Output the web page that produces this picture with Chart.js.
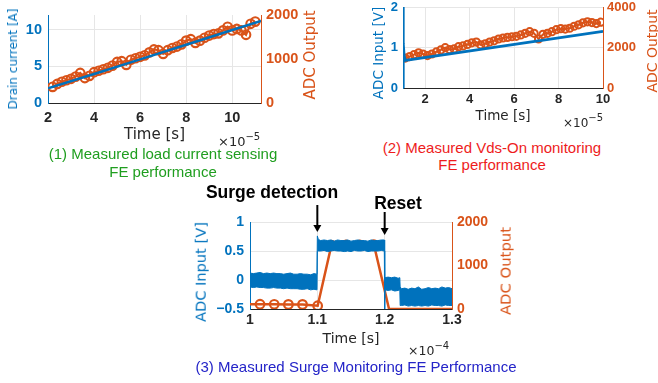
<!DOCTYPE html>
<html><head><meta charset="utf-8">
<script src="https://cdn.jsdelivr.net/npm/chart.js@4/dist/chart.umd.min.js"></script>
<style>
html,body{margin:0;padding:0;background:#fff;}
body{width:658px;height:383px;position:relative;overflow:hidden;font-family:"DejaVu Sans",sans-serif;}
canvas{position:absolute;}
.t{position:absolute;white-space:nowrap;line-height:1;}
.rot{transform:translate(-50%,-50%) rotate(-90deg);}
.ctr{transform:translate(-50%,-50%);}
.cap{font-family:"Liberation Sans",Arial,sans-serif;font-size:15px;}
.sup{font-size:10px;position:relative;top:-6px;}
</style></head><body>
<canvas id="c1" width="330" height="145" style="left:0;top:0"></canvas>
<canvas id="c2" width="318" height="135" style="left:340px;top:0"></canvas>
<canvas id="c3" width="350" height="180" style="left:180px;top:180px"></canvas>

<div class="t rot" style="left:13px;top:59px;font-size:12px;color:#0072BD">Drain current [A]</div>
<div class="t rot" style="left:310px;top:55px;font-size:15px;color:#D95319">ADC Output</div>
<div class="t" style="left:218px;top:135px;font-size:13px;color:#262626">×10<span class="sup">−5</span></div>
<div class="t ctr cap" style="left:163px;top:153px;color:#1f9e1f">(1) Measured load current sensing</div>
<div class="t ctr cap" style="left:163px;top:171px;color:#1f9e1f">FE performance</div>

<div class="t rot" style="left:379px;top:53px;font-size:13.5px;color:#0072BD">ADC Input [V]</div>
<div class="t rot" style="left:652px;top:51px;font-size:14px;color:#D95319">ADC Output</div>
<div class="t" style="left:563px;top:117px;font-size:12px;color:#262626">×10<span class="sup">−5</span></div>
<div class="t ctr cap" style="left:492px;top:147px;color:#ee1c1c">(2) Measured Vds-On monitoring</div>
<div class="t ctr cap" style="left:492px;top:164px;color:#ee1c1c">FE performance</div>

<div class="t rot" style="left:201px;top:272px;font-size:14.6px;color:#0072BD">ADC Input [V]</div>
<div class="t rot" style="left:506px;top:271px;font-size:14.8px;color:#D95319">ADC Output</div>
<div class="t" style="left:408px;top:345px;font-size:12.5px;color:#262626">×10<span class="sup">−4</span></div>
<div class="t ctr cap" style="left:356px;top:366px;color:#2424c8">(3) Measured Surge Monitoring FE Performance</div>
<div class="t ctr" style="left:272px;top:193px;font-family:'Liberation Sans',Arial,sans-serif;font-weight:bold;font-size:17.5px;color:#000">Surge detection</div>
<div class="t ctr" style="left:398px;top:204px;font-family:'Liberation Sans',Arial,sans-serif;font-weight:bold;font-size:17.5px;color:#000">Reset</div>

<script>
// ---------- Chart (1): load current sensing (time in 1e-5 s) ----------
const t1Blue = [2.0, 4.0, 6.0, 8.0, 10.0, 11.25];
const current1 = [2.0, 3.95, 5.95, 7.95, 9.95, 11.2];
const t1Adc = [2.2,2.4,2.6,2.8,3.0,3.2,3.4,3.6,3.8,4.0,4.2,4.4,4.6,4.8,5.0,5.2,5.4,5.6,5.8,6.0,6.2,6.4,6.6,6.8,7.0,7.2,7.4,7.6,7.8,8.0,8.2,8.4,8.6,8.8,9.0,9.2,9.4,9.6,9.8,10.0,10.2,10.4,10.6,10.8,11.0];
const adc1 = [367,433,483,517,550,600,683,567,617,700,733,767,800,850,933,950,867,983,1017,1050,1083,1150,1217,1200,1117,1200,1250,1283,1333,1417,1450,1367,1417,1483,1533,1567,1583,1650,1733,1650,1683,1650,1550,1800,1850];
const x1Ticks = [2,4,6,8,10];
const x1Labels = ['2','4','6','8','10'];
const y1Ticks = [0,5,10];
const y1Labels = ['0','5','10'];
const y1rTicks = [0,1000,2000];
const y1rLabels = ['0','1000','2000'];

// ---------- Chart (2): Vds-On monitoring (time in 1e-5 s) ----------
const t2Blue = [1.0, 1.002, 1.02, 1.05, 1.1, 10.0];
const vin2 = [0.0, 2.0, 1.1, 0.8, 0.68, 1.40];
const t2Adc = [1.1,1.3,1.5,1.7,1.9,2.1,2.3,2.5,2.7,2.9,3.1,3.3,3.5,3.7,3.9,4.1,4.3,4.5,4.7,4.9,5.1,5.3,5.5,5.7,5.9,6.1,6.3,6.5,6.7,6.9,7.1,7.3,7.5,7.7,7.9,8.1,8.3,8.5,8.7,8.9,9.1,9.3,9.5,9.7,9.9];
const adc2 = [1480,1550,1650,1740,1680,1600,1680,1780,1880,1990,1900,1930,2040,2080,2150,2230,2270,2130,2180,2270,2330,2420,2470,2500,2530,2550,2620,2700,2780,2700,2420,2650,2700,2780,2880,2930,2910,2950,3050,3120,3220,3270,3230,3180,3250];
const x2Ticks = [2,4,6,8,10];
const x2Labels = ['2','4','6','8','10'];
const y2Ticks = [0,1,2];
const y2Labels = ['0','1','2'];
const y2rTicks = [0,2000,4000];
const y2rLabels = ['0','2000','4000'];

// ---------- Chart (3): surge monitoring (time in 1e-4 s) ----------
const bandT = [1.000,1.005,1.010,1.015,1.020,1.025,1.030,1.035,1.040,1.045,1.050,1.055,1.060,1.065,1.070,1.075,1.080,1.085,1.090,1.095,1.0995,
  1.1000,1.1015,1.105,1.110,1.115,1.120,1.125,1.130,1.135,1.140,1.145,1.150,1.155,1.160,1.165,1.170,1.175,1.180,1.185,1.190,1.195,1.1995,
  1.2000,1.2005,1.205,1.210,1.215,1.220,1.2225,
  1.2230,1.225,1.230,1.235,1.240,1.245,1.250,1.255,1.260,1.265,1.270,1.275,1.280,1.285,1.290,1.295,1.300];
const bandHi = [0.12,0.11,0.12,0.13,0.11,0.12,0.11,0.12,0.11,0.11,0.10,0.11,0.12,0.10,0.10,0.11,0.10,0.10,0.09,0.11,0.10,
  0.76,0.70,0.68,0.69,0.68,0.69,0.67,0.69,0.68,0.68,0.69,0.67,0.68,0.69,0.68,0.68,0.67,0.69,0.68,0.68,0.69,0.69,
  0.05,0.04,0.05,0.04,0.05,0.03,0.04,
  -0.12,-0.15,-0.14,-0.16,-0.14,-0.15,-0.12,-0.16,-0.15,-0.13,-0.15,-0.14,-0.15,-0.12,-0.14,-0.13,-0.15];
const bandLo = [-0.12,-0.13,-0.12,-0.13,-0.13,-0.14,-0.14,-0.13,-0.14,-0.14,-0.15,-0.14,-0.15,-0.15,-0.15,-0.16,-0.16,-0.15,-0.17,-0.16,-0.17,
  0.49,0.50,0.50,0.51,0.49,0.50,0.51,0.50,0.50,0.49,0.50,0.49,0.51,0.50,0.50,0.51,0.49,0.50,0.50,0.50,0.51,0.50,
  -0.50,-0.17,-0.18,-0.17,-0.19,-0.18,-0.17,
  -0.44,-0.44,-0.43,-0.45,-0.44,-0.45,-0.44,-0.45,-0.44,-0.45,-0.43,-0.44,-0.44,-0.45,-0.43,-0.44,-0.44];
const t3Adc = [1.000,1.0149,1.036,1.057,1.078,1.1005,1.121,1.1425,1.163,1.184,1.2065,1.227,1.248,1.269,1.290,1.300];
const adc3 = [110,110,108,105,105,75,1470,1475,1475,1478,0,0,0,0,0,0];
const x3Ticks = [1.0,1.1,1.2,1.3];
const x3Labels = ['1','1.1','1.2','1.3'];
const y3Ticks = [-0.5,0,0.5,1];
const y3Labels = ['\u22120.5','0','0.5','1'];
const y3rTicks = [0,1000,2000];
const y3rLabels = ['0','1000','2000'];
const arrowTimes = [1.1, 1.2];

// ---------- helpers ----------
const GRID = '#e6e6e6', BLUE = '#0072BD', ORANGE = '#D95319', DARK = '#262626';
const AX = 'DejaVu Sans', TK = 'Liberation Sans';
const pts = (xs, ys) => xs.map((x, i) => ({x: x, y: ys[i]}));
function fitSize(prop, v) {
  return s => { s[prop] = v; s.paddingTop = 0; s.paddingBottom = 0; s.paddingLeft = 0; s.paddingRight = 0; };
}
function scale(o) {
  const horiz = o.pos === 'bottom';
  return {
    type: 'linear', position: o.pos, min: o.min, max: o.max,
    afterBuildTicks: s => { s.ticks = o.ticks.map(v => ({value: v})); },
    afterFit: fitSize(horiz ? 'height' : 'width', o.size),
    ticks: { callback: (v, i) => o.labels[i], color: o.color, padding: o.pad, autoSkip: false,
             maxRotation: 0, minRotation: 0, font: { family: TK, size: o.font, weight: 'bold' } },
    grid: { color: GRID, lineWidth: 1, drawTicks: false, drawOnChartArea: o.gridOn !== false },
    border: { color: o.border, width: 1 },
    title: o.title ? { display: true, text: o.title, color: DARK,
      font: { family: AX, size: o.titleSize }, padding: { top: 0, bottom: o.titlePad } } : { display: false }
  };
}
function make(id, padTop, scales, datasets, plugins) {
  return new Chart(document.getElementById(id), {
    type: 'line',
    data: { datasets: datasets },
    options: {
      responsive: false, animation: false, devicePixelRatio: 1,
      layout: { padding: { top: padTop, left: 0, right: 0, bottom: 0 } },
      plugins: { legend: { display: false }, tooltip: { enabled: false } },
      elements: { line: { tension: 0 } },
      scales: scales
    },
    plugins: plugins || []
  });
}
const hollow = (r, bw) => ({ pointRadius: r, pointBorderWidth: bw, pointBorderColor: ORANGE,
  pointBackgroundColor: 'rgba(255,255,255,0)', pointHoverRadius: r });

// ---------- Chart 1 ----------
make('c1', 15, {
  x: scale({pos: 'bottom', min: 2, max: 11.25, ticks: x1Ticks, labels: x1Labels, color: DARK, pad: 6, font: 14.5,
            border: DARK, size: 42, title: 'Time [s]', titleSize: 15, titlePad: 1}),
  y: scale({pos: 'left', min: 0, max: 12, ticks: y1Ticks, labels: y1Labels, color: BLUE, pad: 6, font: 14.5,
            border: BLUE, size: 48}),
  y2: scale({pos: 'right', min: 0, max: 2000, ticks: y1rTicks, labels: y1rLabels, color: ORANGE, pad: 5, font: 14.5,
             border: ORANGE, size: 69, gridOn: false})
}, [
  { data: pts(t1Blue, current1), yAxisID: 'y', borderColor: BLUE, borderWidth: 2.5, pointRadius: 0, fill: false },
  Object.assign({ data: pts(t1Adc, adc1), yAxisID: 'y2', borderColor: ORANGE, borderWidth: 2.2, fill: false }, hollow(4.3, 2.1))
]);

// ---------- Chart 2 ----------
make('c2', 7, {
  x: scale({pos: 'bottom', min: 1, max: 10, ticks: x2Ticks, labels: x2Labels, color: DARK, pad: 4, font: 13,
            border: DARK, size: 47, title: 'Time [s]', titleSize: 13.5, titlePad: 10}),
  y: scale({pos: 'left', min: 0, max: 2, ticks: y2Ticks, labels: y2Labels, color: BLUE, pad: 5, font: 13,
            border: BLUE, size: 63}),
  y2: scale({pos: 'right', min: 0, max: 4000, ticks: y2rTicks, labels: y2rLabels, color: ORANGE, pad: 4, font: 13,
             border: ORANGE, size: 55, gridOn: false})
}, [
  { data: pts(t2Blue, vin2), yAxisID: 'y', borderColor: BLUE, borderWidth: 2.8, pointRadius: 0, fill: false },
  Object.assign({ data: pts(t2Adc, adc2), yAxisID: 'y2', borderColor: ORANGE, borderWidth: 2, fill: false }, hollow(3.6, 2))
]);

// ---------- Chart 3 ----------
const arrows = {
  id: 'arrows',
  afterDraw(chart) {
    const ctx = chart.ctx, xs = chart.scales.x, top = chart.chartArea.top;
    const spec = [[arrowTimes[0], -17, 10], [arrowTimes[1], -10, 13]];
    ctx.save();
    ctx.strokeStyle = '#000'; ctx.fillStyle = '#000'; ctx.lineWidth = 2;
    spec.forEach(([t, y0, y1]) => {
      const x = xs.getPixelForValue(t);
      ctx.beginPath(); ctx.moveTo(x, top + y0); ctx.lineTo(x, top + y1 - 6); ctx.stroke();
      ctx.beginPath(); ctx.moveTo(x - 4, top + y1 - 7); ctx.lineTo(x + 4, top + y1 - 7); ctx.lineTo(x, top + y1); ctx.closePath(); ctx.fill();
    });
    ctx.restore();
  }
};
make('c3', 42, {
  x: scale({pos: 'bottom', min: 1.0, max: 1.3, ticks: x3Ticks, labels: x3Labels, color: DARK, pad: 3, font: 14,
            border: DARK, size: 51, title: 'Time [s]', titleSize: 14, titlePad: 12}),
  y: scale({pos: 'left', min: -0.5, max: 1, ticks: y3Ticks, labels: y3Labels, color: BLUE, pad: 6, font: 14,
            border: BLUE, size: 70}),
  y2: scale({pos: 'right', min: 0, max: 2000, ticks: y3rTicks, labels: y3rLabels, color: ORANGE, pad: 5, font: 14,
             border: ORANGE, size: 78, gridOn: false})
}, [
  { data: pts(bandT, bandHi), yAxisID: 'y', borderColor: BLUE, backgroundColor: BLUE, borderWidth: 1, pointRadius: 0, fill: '+1' },
  { data: pts(bandT, bandLo), yAxisID: 'y', borderColor: BLUE, borderWidth: 1, pointRadius: 0, fill: false },
  { data: pts(t3Adc, adc3), yAxisID: 'y2', borderColor: ORANGE, borderWidth: 2.5, fill: false,
    pointRadius: c => (c.dataIndex >= 1 && c.dataIndex <= 9 ? 4.3 : 0), pointBorderWidth: 2.2,
    pointBorderColor: ORANGE, pointBackgroundColor: 'rgba(255,255,255,0)' }
], [arrows]);
</script>
</body></html>
